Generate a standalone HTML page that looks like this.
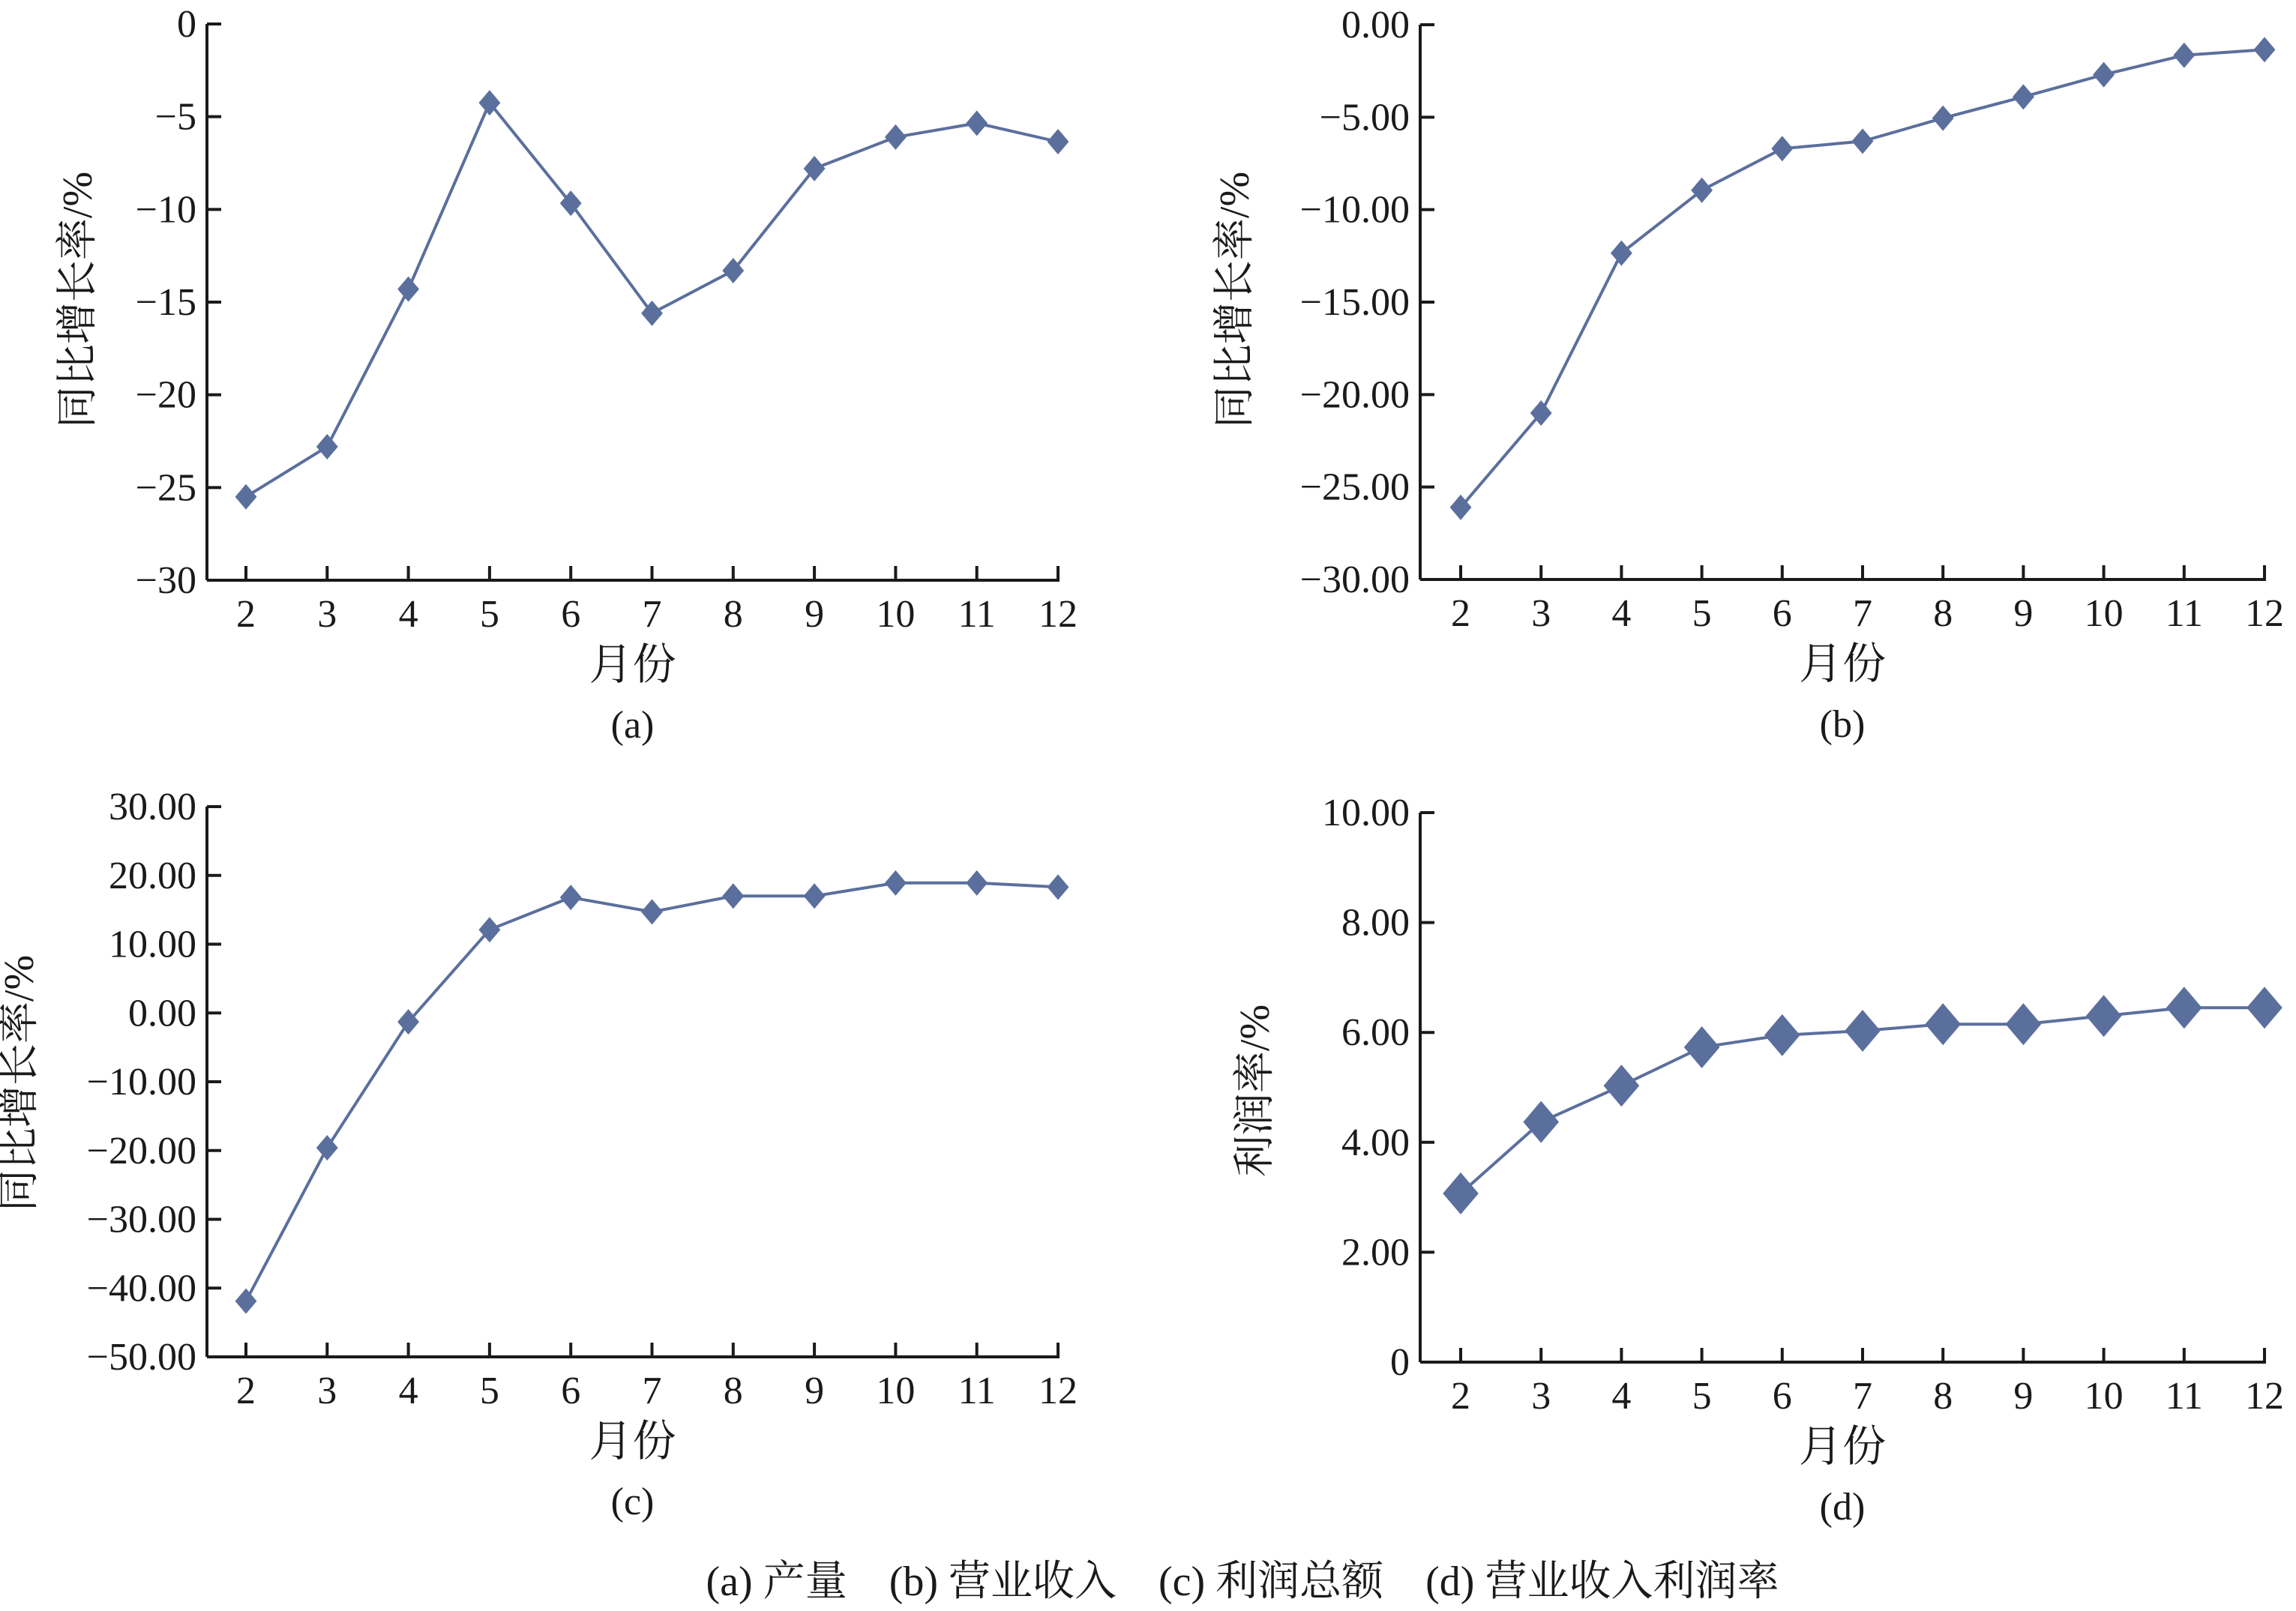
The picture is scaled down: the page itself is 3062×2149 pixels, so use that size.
<!DOCTYPE html>
<html><head><meta charset="utf-8"><style>
html,body{margin:0;padding:0;background:#fff;}
svg{display:block;}
text{font-family:"Liberation Serif","Noto Serif CJK SC",serif;fill:#1a1a1a;}
</style></head><body>
<svg id="chart" width="3062" height="2149" viewBox="0 0 3062 2149" xmlns="http://www.w3.org/2000/svg">
<text x="1657" y="2128" font-size="56" text-anchor="middle">(a) 产量　(b) 营业收入　(c) 利润总额　(d) 营业收入利润率</text>
</svg>
<script>
const months = [2,3,4,5,6,7,8,9,10,11,12];
const seriesA = [-25.5,-22.8,-14.3,-4.25,-9.67,-15.6,-13.3,-7.8,-6.1,-5.35,-6.35];
const seriesB = [-26.1,-21.0,-12.35,-8.95,-6.7,-6.3,-5.05,-3.9,-2.7,-1.65,-1.35];
const seriesC = [-41.9,-19.6,-1.3,12.1,16.8,14.7,17.0,17.0,18.9,18.9,18.3];
const seriesD = [3.07,4.37,5.03,5.73,5.95,6.03,6.15,6.15,6.30,6.45,6.45];
const ticksA = [0,-5,-10,-15,-20,-25,-30];
const tickLabelsA = ["0","\u22125","\u221210","\u221215","\u221220","\u221225","\u221230"];
const ticksB = [0,-5,-10,-15,-20,-25,-30];
const tickLabelsB = ["0.00","\u22125.00","\u221210.00","\u221215.00","\u221220.00","\u221225.00","\u221230.00"];
const ticksC = [30,20,10,0,-10,-20,-30,-40,-50];
const tickLabelsC = ["30.00","20.00","10.00","0.00","\u221210.00","\u221220.00","\u221230.00","\u221240.00","\u221250.00"];
const ticksD = [10,8,6,4,2,0];
const tickLabelsD = ["10.00","8.00","6.00","4.00","2.00","0"];

const NS = "http://www.w3.org/2000/svg";
const svg = document.getElementById('chart');
function mk(tag, attrs, parent){
  const e = document.createElementNS(NS, tag);
  for (const k in attrs) e.setAttribute(k, attrs[k]);
  (parent||svg).appendChild(e);
  return e;
}
const COLOR = "#5b6f9d";

function panel(cfg){
  const g = mk('g', {});
  
  
  const ys = v => cfg.top + (cfg.yMax - v) / (cfg.yMax - cfg.yMin) * (cfg.bottom - cfg.top);
  const xs = m => cfg.x0 + (m - months[0]) / (months[months.length-1] - months[0]) * (cfg.x1 - cfg.x0);
  // axes
  const ya = mk('line', {x1:cfg.ax, y1:cfg.top, x2:cfg.ax, y2:cfg.bottom, stroke:'#1a1a1a','stroke-width':4}, g);
  
  
  const xa = mk('line', {x1:cfg.ax, y1:cfg.bottom, x2:cfg.x1+2, y2:cfg.bottom, stroke:'#1a1a1a','stroke-width':4}, g);
  
  
  cfg.ticks.forEach((t,i)=>{
    const y = ys(t);
    const tl = mk('line',{x1:cfg.ax, y1:y, x2:cfg.ax+19, y2:y, stroke:'#1a1a1a','stroke-width':4}, g);
    
    
    const tx = mk('text',{x:cfg.ax-14, y:y+17, 'font-size':52, 'text-anchor':'end'}, g);
    tx.textContent = cfg.labels[i];
    
    
  });
  months.forEach(m=>{
    const x = xs(m);
    const tl = mk('line',{x1:x, y1:cfg.bottom, x2:x, y2:cfg.bottom-19, stroke:'#1a1a1a','stroke-width':4}, g);
    
    
    const tx = mk('text',{x:x, y:cfg.bottom+62, 'font-size':52, 'text-anchor':'middle'}, g);
    tx.textContent = String(m);
    
    
  });
  const midX = (cfg.ax + cfg.x1)/2;
  const xt = mk('text',{x:midX, y:cfg.bottom+132, 'font-size':58, 'text-anchor':'middle'}, g);
  xt.textContent = '月份';
  
  
  const pl = mk('text',{x:midX, y:cfg.bottom+210, 'font-size':52, 'text-anchor':'middle'}, g);
  pl.textContent = '(' + cfg.id + ')';
  
  
  const yt = mk('text',{x:0, y:0, 'font-size':56, 'text-anchor':'middle', transform:`translate(${cfg.titleX},${cfg.titleY}) rotate(-90)`}, g);
  yt.textContent = cfg.title;
  
  
  // line
  const pts = cfg.data.map((v,i)=>xs(months[i]).toFixed(1)+','+ys(v).toFixed(1)).join(' ');
  const pline = mk('polyline',{points:pts, fill:'none', stroke:COLOR, 'stroke-width':4}, g);
  
  
  const r = cfg.marker;
  cfg.data.forEach((v,i)=>{
    const x = xs(months[i]), y = ys(v);
    const d = mk('polygon',{points:`${x},${y-r} ${x+r*0.85},${y} ${x},${y+r} ${x-r*0.85},${y}`, fill:COLOR}, g);
    
    
  });
}

panel({id:'a', ax:276, top:32, bottom:774, yMax:0, yMin:-30, x0:328, x1:1411, ticks:ticksA, labels:tickLabelsA, data:seriesA, title:'同比增长率/%', titleX:122, titleY:400, marker:17});
panel({id:'b', ax:1894, top:33, bottom:773, yMax:0, yMin:-30, x0:1948, x1:3020, ticks:ticksB, labels:tickLabelsB, data:seriesB, title:'同比增长率/%', titleX:1665, titleY:400, marker:17});
panel({id:'c', ax:276, top:1076, bottom:1810, yMax:30, yMin:-50, x0:328, x1:1411, ticks:ticksC, labels:tickLabelsC, data:seriesC, title:'同比增长率/%', titleX:44, titleY:1445, marker:17});
panel({id:'d', ax:1894, top:1084, bottom:1817, yMax:10, yMin:0, x0:1948, x1:3020, ticks:ticksD, labels:tickLabelsD, data:seriesD, title:'利润率/%', titleX:1692, titleY:1455, marker:28});
</script>
</body></html>
